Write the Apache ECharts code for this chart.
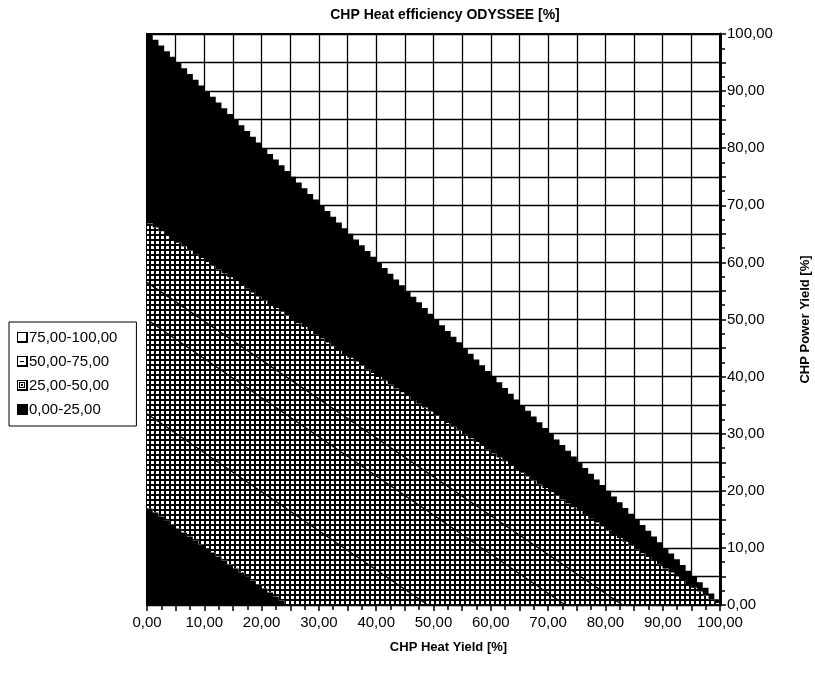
<!DOCTYPE html>
<html><head><meta charset="utf-8">
<script src="https://cdn.jsdelivr.net/npm/echarts@6/dist/echarts.min.js"></script>
<style>html,body{margin:0;padding:0;background:#fff}#c{width:815px;height:684px}</style>
</head><body><div id="c"></div>
<script>
const FONT = '"Liberation Sans", Arial, sans-serif';

// ---- data ----
const bandNames = ['75,00-100,00', '50,00-75,00', '25,00-50,00', '0,00-25,00'];
const tickLabels = ['0,00','10,00','20,00','30,00','40,00','50,00','60,00','70,00','80,00','90,00','100,00'];
// band boundaries as [y-intercept (Power Yield), x-intercept (Heat Yield)]
const edgeTop = [100, 100];      // white / black band
const edgeMid = [66.8, 99.5];    // black band / patterned area
const edgeCorner = [16.9, 24.1]; // patterned area / black corner
const edgeSplit = [50, 73];      // 50-75 / 25-50
const contourLines = [[56.5, 83], [50, 73], [33.5, 49]];

// ---- helpers ----
function stairs(edge) {
  const a = edge[0], b = edge[1], pts = [];
  const n = Math.ceil(b);
  for (let i = 0; i < n; i++) {
    const h = Math.max(0, a * (1 - i / b));
    pts.push([i, h], [Math.min(i + 1, 100), h]);
  }
  return pts;
}
const U = stairs(edgeTop), L = stairs(edgeMid), C = stairs(edgeCorner);
const rev = arr => arr.slice().reverse();
const cEnd = C[C.length - 1][0];

const polyBlackBand = U.concat(rev(L));
const polyUpperPattern = L.concat([[100, 0], [edgeSplit[1], 0], [0, edgeSplit[0]]]);
const polyLowerPattern = [[0, edgeSplit[0]], [edgeSplit[1], 0], [cEnd, 0]].concat(rev(C));
const polyCorner = C.concat([[cEnd, 0], [0, 0]]);

function makeCanvas(w, h, draw) {
  const c = document.createElement('canvas'); c.width = w; c.height = h;
  draw(c.getContext('2d')); return c;
}
function gridPattern(g) {
  g.fillStyle = '#000'; g.fillRect(0,0,5,5);
  g.fillStyle = '#fff'; g.fillRect(1,1,3,3);
}
const patA = makeCanvas(5, 5, gridPattern);
const patB = makeCanvas(5, 5, gridPattern);

function icon(kind) {
  return 'image://' + makeCanvas(11, 11, g => {
    g.fillStyle = '#fff'; g.fillRect(0,0,11,11);
    if (kind === 3) { g.fillStyle = '#000'; g.fillRect(0,0,11,11); return; }
    g.strokeStyle = '#000'; g.lineWidth = 1; g.strokeRect(0.5,0.5,10,10);
    g.fillStyle = '#000'; g.fillRect(9,1,2,10); g.fillRect(1,9,10,2);
    if (kind === 1) g.fillRect(3,5,4,1);
    if (kind === 2) { g.strokeRect(2.5,2.5,5,5); g.fillRect(4,4,2,2); }
  }).toDataURL();
}

function polySeries(name, polys, fill) {
  return {
    type: 'custom', name, coordinateSystem: 'cartesian2d', clip: true, z: 2,
    data: polys.map((_, i) => [i, 0]),
    renderItem: (params, api) => ({
      type: 'polygon',
      shape: { points: polys[params.dataIndex].map(p => api.coord(p)) },
      style: { fill: fill, stroke: null, lineWidth: 0 }
    })
  };
}

const series = [
  polySeries(bandNames[0], [], '#fff'),
  polySeries(bandNames[1], [polyUpperPattern], { image: patA, repeat: 'repeat' }),
  polySeries(bandNames[2], [polyLowerPattern], { image: patB, repeat: 'repeat' }),
  polySeries(bandNames[3], [polyBlackBand, polyCorner], '#000')
];
contourLines.forEach((c, i) => series.push({
  type: 'line', name: 'contour' + i, z: 3, symbol: 'none', silent: true,
  data: [[0, c[0]], [c[1], 0]],
  lineStyle: { color: '#000', width: 1.3 }
}));

const axisCommon = {
  type: 'value', min: 0, max: 100, interval: 5,
  axisLine: { show: true, onZero: false, lineStyle: { color: '#000', width: 2 } },
  axisTick: { show: true, length: 6, lineStyle: { color: '#000', width: 1.5 } },
  minorTick: { show: true, splitNumber: 2, length: 5, lineStyle: { color: '#000', width: 1.5 } },
  splitLine: { show: true, lineStyle: { color: '#000', width: 1.3 } },
  nameLocation: 'middle'
};
const labelFmt = v => (v % 10 === 0 ? tickLabels[v / 10] : '');

const chart = echarts.init(document.getElementById('c'), null, { renderer: 'canvas' });
chart.setOption({
  animation: false,
  backgroundColor: '#fff',
  title: {
    text: 'CHP Heat efficiency ODYSSEE [%]', left: 440, top: 3, textAlign: 'center',
    textStyle: { fontFamily: FONT, fontSize: 14, fontWeight: 'bold', color: '#000' }
  },
  legend: {
    orient: 'vertical', left: 9, top: 322, selectedMode: false,
    itemWidth: 11, itemHeight: 11, itemGap: 9,
    padding: [8, 19, 9, 8], borderColor: '#000', borderWidth: 1,
    textStyle: { fontFamily: FONT, fontSize: 15, color: '#000', lineHeight: 15, padding: [0, 0, 0, -4] },
    data: bandNames.map((n, i) => ({ name: n, icon: icon(i) }))
  },
  grid: { left: 147, top: 34, width: 573, height: 571, show: true, borderColor: '#000', borderWidth: 2,
          backgroundColor: '#fff', containLabel: false, outerBoundsMode: 'none' },
  xAxis: Object.assign({}, axisCommon, {
    position: 'bottom',
    axisLabel: { formatter: labelFmt, color: '#000', fontSize: 15, fontFamily: FONT, margin: 10 },
    name: 'CHP Heat Yield [%]', nameGap: 36,
    nameTextStyle: { fontFamily: FONT, fontSize: 13, fontWeight: 'bold', color: '#000', padding: [0, 0, 0, 30] }
  }),
  yAxis: Object.assign({}, axisCommon, {
    position: 'right',
    axisLine: { show: true, onZero: false, lineStyle: { color: '#000', width: 3 } },
    axisLabel: { formatter: labelFmt, color: '#000', fontSize: 15, fontFamily: FONT, margin: 7 },
    name: 'CHP Power Yield [%]', nameGap: 79, nameRotate: 90,
    nameTextStyle: { fontFamily: FONT, fontSize: 13, fontWeight: 'bold', color: '#000' }
  }),
  series
});
</script></body></html>
